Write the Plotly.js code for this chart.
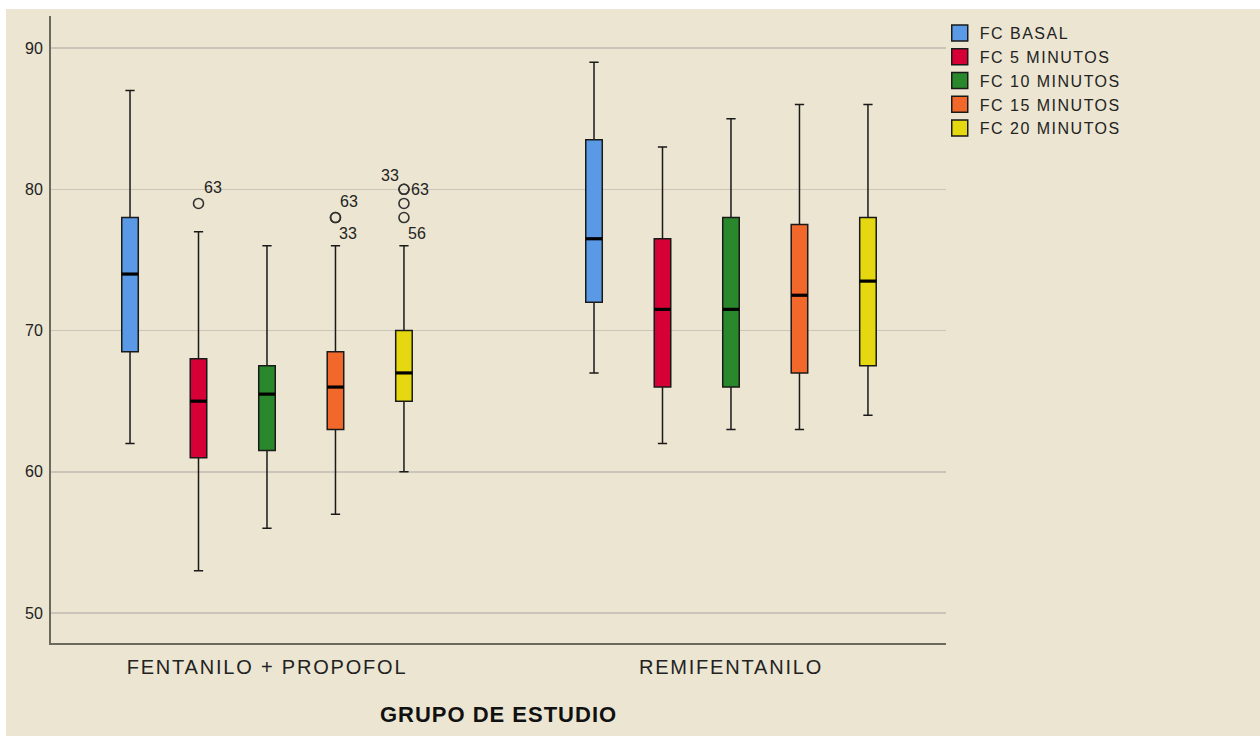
<!DOCTYPE html>
<html>
<head>
<meta charset="utf-8">
<script src="https://cdn.plot.ly/plotly-3.0.1.min.js"></script>
<style>
  html, body { margin: 0; padding: 0; background: #ffffff; }
  #chart { position: absolute; left: 6px; top: 9px; width: 1254px; height: 727px; }
  .xtick text { letter-spacing: 1.8px; }
  .g-xtitle text { letter-spacing: 1px; }
  .legendtext { letter-spacing: 1.5px; }
</style>
</head>
<body>
<div id="chart"></div>
<script>
// ---- data ----
const groups = ['FENTANILO + PROPOFOL', 'REMIFENTANILO'];
const seriesNames = ['FC BASAL', 'FC 5 MINUTOS', 'FC 10 MINUTOS', 'FC 15 MINUTOS', 'FC 20 MINUTOS'];
// each row: one series, values per group [FENTANILO + PROPOFOL, REMIFENTANILO]
const lowerWhisker = [[62, 67], [53, 62], [56, 63], [57, 63], [60, 64]];
const q1Values     = [[68.5, 72], [61, 66], [61.5, 66], [63, 67], [65, 67.5]];
const medianValues = [[74, 76.5], [65, 71.5], [65.5, 71.5], [66, 72.5], [67, 73.5]];
const q3Values     = [[78, 83.5], [68, 76.5], [67.5, 78], [68.5, 77.5], [70, 78]];
const upperWhisker = [[87, 89], [77, 83], [76, 85], [76, 86], [76, 86]];
// outlier cases
const outlierGroup  = [0, 0, 0, 0, 0, 0, 0];
const outlierSeries = [1, 3, 3, 4, 4, 4, 4];
const outlierValue  = [79, 78, 78, 80, 80, 79, 78];
const outlierCase   = ['63', '63', '33', '33', '63', '', '56'];
const yTicks = [50, 60, 70, 80, 90];

// ---- styling ----
const seriesColors = ['#5A99E6', '#D60036', '#2A882C', '#F2682A', '#E6D810'];
const labelPlacement = ['ur', 'ur', 'lr', 'ul', 'r', '', 'lr'];
const placementShift = { ur: [14, 16], lr: [13, -16], ul: [-14, 14], r: [16, 0] };
const bg = '#EBE5D1';
const step = 0.1476;     // spacing between boxes inside a group (x units)
const boxW = 0.0356;     // box width (x units)
const offset = k => (k - (seriesNames.length - 1) / 2) * step;

const traces = [];
seriesNames.forEach((name, k) => {
  traces.push({
    type: 'box',
    name: name,
    x: groups.map((g, gi) => gi + offset(k)),
    q1: q1Values[k],
    median: medianValues[k],
    q3: q3Values[k],
    lowerfence: lowerWhisker[k],
    upperfence: upperWhisker[k],
    width: boxW,
    whiskerwidth: 0.56,
    fillcolor: seriesColors[k],
    line: { color: '#1a1a1a', width: 1.5 },
    boxpoints: false,
    showlegend: false,
    hoverinfo: 'skip'
  });
});

// thick median lines
const medX = [], medY = [];
seriesNames.forEach((name, k) => {
  groups.forEach((g, gi) => {
    const c = gi + offset(k);
    medX.push(c - boxW / 2, c + boxW / 2, null);
    medY.push(medianValues[k][gi], medianValues[k][gi], null);
  });
});
traces.push({
  type: 'scatter', mode: 'lines', x: medX, y: medY,
  line: { color: '#000000', width: 3.2 },
  showlegend: false, hoverinfo: 'skip'
});

// outliers
traces.push({
  type: 'scatter', mode: 'markers',
  x: outlierValue.map((v, i) => outlierGroup[i] + offset(outlierSeries[i])),
  y: outlierValue,
  marker: { symbol: 'circle-open', size: 10, color: '#333333', line: { width: 1.6, color: '#333333' } },
  showlegend: false, hoverinfo: 'skip'
});

// legend entries
seriesNames.forEach((name, k) => {
  traces.push({
    type: 'scatter', mode: 'markers', name: name,
    x: [null], y: [null],
    marker: { symbol: 'square', size: 16, color: seriesColors[k], line: { color: '#1a1a1a', width: 1.5 } },
    showlegend: true
  });
});

const annotations = [];
outlierCase.forEach((c, i) => {
  if (!c) return;
  const sh = placementShift[labelPlacement[i]];
  annotations.push({
    x: outlierGroup[i] + offset(outlierSeries[i]), y: outlierValue[i],
    xref: 'x', yref: 'y', text: c, showarrow: false,
    xshift: sh[0], yshift: sh[1],
    font: { family: 'Liberation Sans, Arial, sans-serif', size: 16, color: '#222222' }
  });
});

const layout = {
  width: 1254, height: 727,
  paper_bgcolor: bg, plot_bgcolor: bg,
  margin: { l: 45, r: 314, t: 7, b: 93 },
  font: { family: 'Liberation Sans, Arial, sans-serif', color: '#222222' },
  showlegend: true,
  legend: {
    x: 0.993, xanchor: 'left', y: 1.0, yanchor: 'top',
    bgcolor: 'rgba(0,0,0,0)', borderwidth: 0,
    font: { size: 16, color: '#222222' }
  },
  xaxis: {
    range: [-0.4655, 1.4634],
    tickvals: groups.map((g, i) => i), ticktext: groups,
    ticks: '', showgrid: false, zeroline: false,
    showline: true, linecolor: '#6b685c', linewidth: 2,
    tickfont: { size: 20, color: '#222222' },
    ticklabelstandoff: 5,
    title: { text: 'GRUPO DE ESTUDIO', font: { size: 22, weight: 'bold', color: '#111111' }, standoff: 30 }
  },
  yaxis: {
    range: [47.88, 92.27],
    tickvals: yTicks,
    ticks: '', zeroline: false,
    showgrid: true, gridcolor: '#C9C5B8', gridwidth: 1.5,
    showline: true, linecolor: '#6b685c', linewidth: 2,
    tickfont: { size: 16, color: '#222222' },
    ticklabelstandoff: 3
  },
  annotations: annotations
};

Plotly.newPlot('chart', traces, layout, { displayModeBar: false, staticPlot: true });
</script>
</body>
</html>
